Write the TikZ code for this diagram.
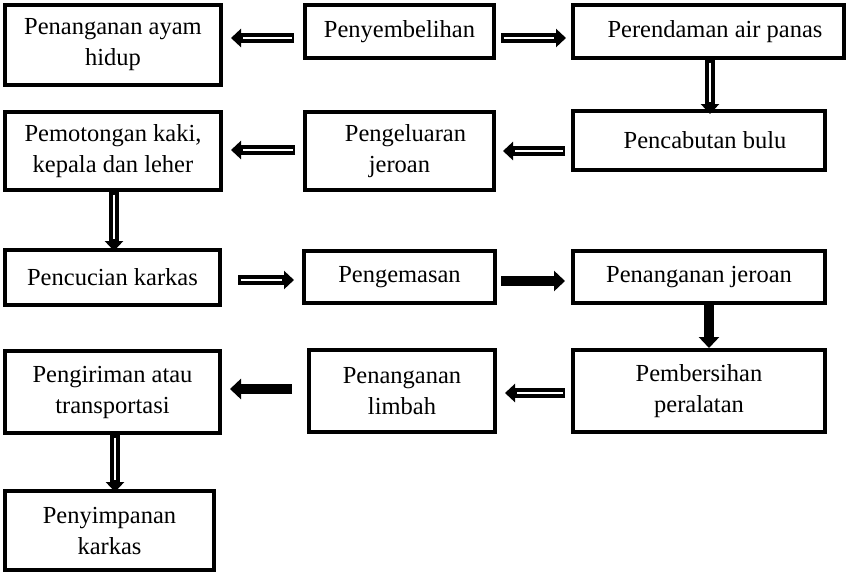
\documentclass[tikz,border=0pt]{standalone}
\usepackage{fontspec}
\setmainfont{Liberation Serif}
\usetikzlibrary{arrows.meta}
\tikzset{
  box/.style={draw=black, line width=4pt, inner sep=0pt, align=center,
    font=\fontsize{24.5}{31}\selectfont},
  harrow/.style={line width=9.5pt, -{Triangle[length=10pt,width=18pt]},
    postaction={draw=white, line width=2.2pt, -, shorten >=12pt, shorten <=2.5pt}},
  sarrow/.style={line width=9.5pt, -{Triangle[length=11pt,width=20pt]}}
}
\begin{document}
\begin{tikzpicture}[x=1pt,y=-1pt]
\useasboundingbox (0,0) rectangle (848,574);
\node[box, minimum width=216pt, minimum height=80pt] (A) at (113,45) {Penanganan ayam\\hidup};
\node[box, minimum width=189pt, minimum height=53pt] (B) at (399.5,31.5) {Penyembelihan};
\node[box, minimum width=271pt, minimum height=53pt] (C) at (708.5,31.5) {\hspace*{13pt}Perendaman air panas};
\node[box, minimum width=216pt, minimum height=78pt] (D) at (113,151) {Pemotongan kaki,\\kepala dan leher};
\node[box, minimum width=189pt, minimum height=78pt] (E) at (399.5,151) {\hspace*{12pt}Pengeluaran\\jeroan};
\node[box, minimum width=252pt, minimum height=59pt] (F) at (699,140.5) {\hspace*{12pt}Pencabutan bulu};
\node[box, minimum width=215pt, minimum height=55pt] (G) at (112.5,277.5) {Pencucian karkas};
\node[box, minimum width=191pt, minimum height=52pt] (H) at (399.5,277) {Pengemasan};
\node[box, minimum width=252pt, minimum height=52pt] (I) at (699,277) {Penanganan jeroan};
\node[box, minimum width=215pt, minimum height=82pt] (J) at (112.5,392) {Pengiriman atau\\transportasi};
\node[box, minimum width=186pt, minimum height=82pt] (K) at (402,391) {Penanganan\\limbah};
\node[box, minimum width=252pt, minimum height=82pt] (L) at (699,391) {Pembersihan\\peralatan};
\node[box, minimum width=209pt, minimum height=79pt] (M) at (109.5,530.5) {Penyimpanan\\karkas};

\draw[harrow] ([xshift=-9pt]B.west |- 0,38) -- ([xshift=8pt]A.east |- 0,38);
\draw[harrow] ([xshift=5pt]B.east |- 0,38) -- ([xshift=-5pt]C.west |- 0,38);
\draw[harrow] (C.south -| 710,0) -- ([yshift=-5pt]F.north -| 710,0);
\draw[harrow] ([xshift=-6pt]F.west |- 0,151) -- ([xshift=7pt]E.east |- 0,151);
\draw[harrow] ([xshift=-8pt]E.west |- 0,150) -- ([xshift=8pt]D.east |- 0,150);
\draw[harrow] (D.south -| 114,0) -- ([yshift=-3pt]G.north -| 114,0);
\draw[harrow] ([xshift=16pt]G.east |- 0,280) -- ([xshift=-8pt]H.west |- 0,280);
\draw[sarrow] ([xshift=4pt]H.east |- 0,281) -- ([xshift=-6pt]I.west |- 0,281);
\draw[sarrow] (I.south -| 709,0) -- (L.north -| 709,0);
\draw[harrow] ([xshift=-6pt]L.west |- 0,393) -- ([xshift=8pt]K.east |- 0,393);
\draw[sarrow] ([xshift=-15pt]K.west |- 0,389) -- ([xshift=8pt]J.east |- 0,389);
\draw[harrow] (J.south -| 115,0) -- ([yshift=-3pt]M.north -| 115,0);
\end{tikzpicture}
\end{document}
